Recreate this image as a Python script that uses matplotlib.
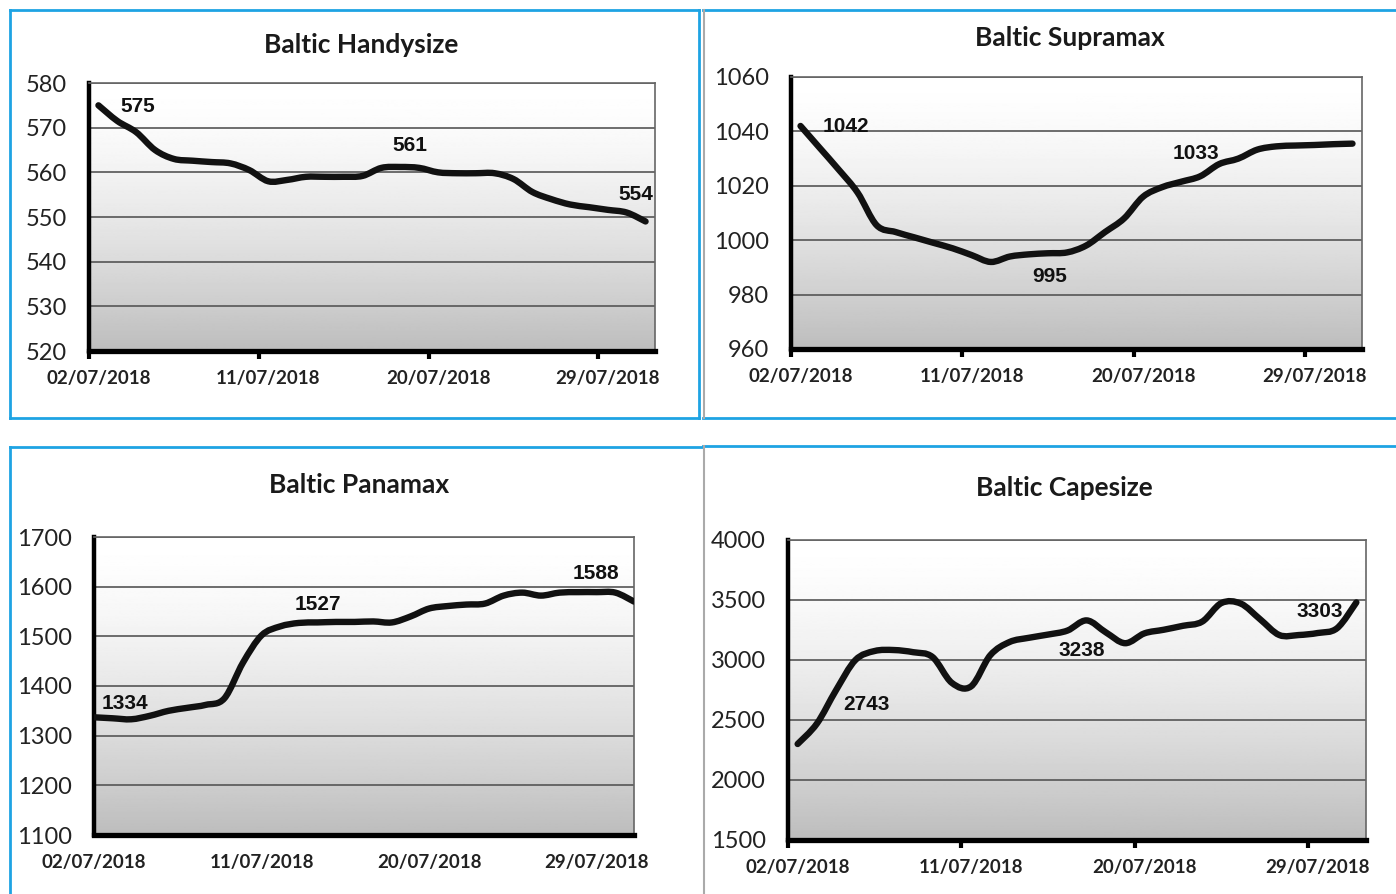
import numpy as np
import matplotlib
matplotlib.use('Agg')
import matplotlib.pyplot as plt
from matplotlib.path import Path
from matplotlib.patches import PathPatch
from matplotlib.lines import Line2D

# day offsets from 02/07/2018
days = list(range(30))
tick_days = [0, 9, 18, 27]
tick_labels = ['02/07/2018', '11/07/2018', '20/07/2018', '29/07/2018']

handysize = [575, 571.5, 569, 565, 563, 562.6, 562.3, 562, 560.5, 558,
             558.3, 559, 559, 559, 559.2, 561, 561.2, 561, 560, 559.8,
             559.8, 559.8, 558.5, 555.6, 554, 552.8, 552.2, 551.6, 551, 549]
supramax = [1042, 1034, 1026, 1017.5, 1005.5, 1003, 1001, 999, 997, 994.5,
            992, 994, 994.8, 995.2, 995.5, 998, 1003, 1008, 1016, 1019.5,
            1021.5, 1023.5, 1028, 1030, 1033.3, 1034.5, 1034.8, 1035, 1035.3, 1035.5]
panamax = [1337, 1335, 1333, 1340, 1350, 1356, 1362, 1375, 1447, 1502,
           1520, 1527, 1528, 1529, 1529, 1530, 1528, 1540, 1556, 1561,
           1564, 1566, 1582, 1588, 1582, 1588, 1589, 1589, 1588, 1570]
capesize = [2300, 2470, 2750, 3000, 3075, 3083, 3065, 3025, 2810, 2780,
            3040, 3150, 3185, 3212, 3245, 3330, 3230, 3140, 3222, 3252,
            3285, 3320, 3475, 3470, 3340, 3208, 3208, 3225, 3265, 3480]

handy_notes = [('575', 2.6, 574.8), ('561', 17.0, 565.9), ('554', 29.0, 555.1)]
supra_notes = [('1042', 2.9, 1041.8), ('995', 13.6, 986.8), ('1033', 21.3, 1031.9)]
pana_notes = [('1334', 1.66, 1365), ('1527', 12.0, 1565), ('1588', 26.96, 1627)]
cape_notes = [('2743', 4.06, 2625), ('3238', 15.27, 3075), ('3303', 27.6, 3408)]

W, H = 1396, 894
fig = plt.figure(figsize=(W / 100, H / 100), dpi=100)

LAB = ['Lato', 'DejaVu Sans']
NOTE = ['Liberation Sans', 'DejaVu Sans']


def px_rect(l, t, r, b):
    return [l / W, 1 - b / H, (r - l) / W, (b - t) / H]


def smooth(xs, ys):
    pts = np.column_stack([xs, ys])
    n = len(pts)
    verts = [pts[0]]
    codes = [Path.MOVETO]
    for i in range(n - 1):
        p0 = pts[max(i - 1, 0)]
        p1 = pts[i]
        p2 = pts[i + 1]
        p3 = pts[min(i + 2, n - 1)]
        verts += [p1 + (p2 - p0) / 6, p2 - (p3 - p1) / 6, p2]
        codes += [Path.CURVE4] * 3
    return Path(verts, codes)


grad = np.linspace(0, 1, 256) ** 1.5
grad = (1 - 0.26 * grad).reshape(-1, 1)


def panel(box, title, title_xy, vals, offset, xmax, ylim, ystep, notes):
    ax = fig.add_axes(px_rect(*box))
    ax.imshow(grad, extent=[0, 1, 0, 1], transform=ax.transAxes, aspect='auto',
              cmap='gray', vmin=0, vmax=1, zorder=0)
    xs = np.array(days) + offset
    ax.add_patch(PathPatch(smooth(xs, vals), fill=False, lw=4.6, color='#111111',
                           capstyle='round', joinstyle='round', zorder=4))
    ax.set_xlim(0, xmax)
    ax.set_ylim(*ylim)
    ax.set_yticks(np.arange(ylim[0], ylim[1] + 1, ystep))
    ax.yaxis.grid(True, color='#555555', lw=1.2)
    ax.set_axisbelow(True)
    ax.tick_params(axis='y', length=0, pad=16, labelsize=17)
    for lab in ax.get_yticklabels():
        lab.set_family(LAB)
        lab.set_color('#222222')
    # date labels sit in the middle of the day, tick marks at its start
    ax.set_xticks(tick_days, minor=True)
    ax.set_xticks([d + offset for d in tick_days])
    ax.set_xticklabels(tick_labels, fontsize=13.5, fontweight='bold', family=LAB,
                       color='#222222')
    ax.tick_params(axis='x', which='major', length=0, pad=14)
    ax.tick_params(axis='x', which='minor', length=6, width=3, color='black',
                   direction='out')
    for s in ['top', 'right']:
        ax.spines[s].set_color('#666666')
        ax.spines[s].set_linewidth(1.2)
    ax.spines['left'].set_linewidth(3.2)
    ax.spines['bottom'].set_linewidth(3.8)
    ax.spines['left'].set_color('black')
    ax.spines['bottom'].set_color('black')
    for txt, x, y in notes:
        ax.text(x, y, txt, ha='center', va='center', fontsize=15,
                fontweight='bold', family=NOTE, color='#111111', zorder=5)
    fig.text(title_xy[0] / W, 1 - title_xy[1] / H, title, ha='center', va='center',
             fontsize=19, fontweight='bold', family=LAB, color='#1a1a1a')
    return ax


panel((89, 83, 655, 351), 'Baltic Handysize', (361, 45), handysize, 0.5, 30,
      (520, 580), 10, handy_notes)
panel((791, 77, 1362, 349), 'Baltic Supramax', (1070, 38), supramax, 0.5, 30,
      (960, 1060), 20, supra_notes)
panel((94, 537, 634, 835), 'Baltic Panamax', (359, 485), panamax, 0, 29,
      (1100, 1700), 100, pana_notes)
panel((788, 540, 1366, 840), 'Baltic Capesize', (1064, 488), capesize, 0.5, 30,
      (1500, 4000), 500, cape_notes)


def line(x0, y0, x1, y1, color, lw):
    fig.add_artist(Line2D([x0 / W, x1 / W], [1 - y0 / H, 1 - y1 / H],
                          transform=fig.transFigure, color=color, lw=lw))


cyan = '#1ea3e3'
# frames round the four panels
line(10, 10, 699, 10, cyan, 2)
line(10, 418, 699, 418, cyan, 2)
line(10, 10, 10, 418, cyan, 2)
line(699, 10, 699, 418, cyan, 2)
line(703, 10, 1396, 10, cyan, 2)
line(703, 418, 1396, 418, cyan, 2)
line(704, 10, 704, 418, '#aaaaaa', 1.5)
line(10, 447, 702, 447, cyan, 2)
line(10, 447, 10, 894, cyan, 2)
line(703, 446, 1396, 446, cyan, 2)
line(704, 446, 704, 894, '#aaaaaa', 1.5)

fig.savefig('out.png', dpi=100)
